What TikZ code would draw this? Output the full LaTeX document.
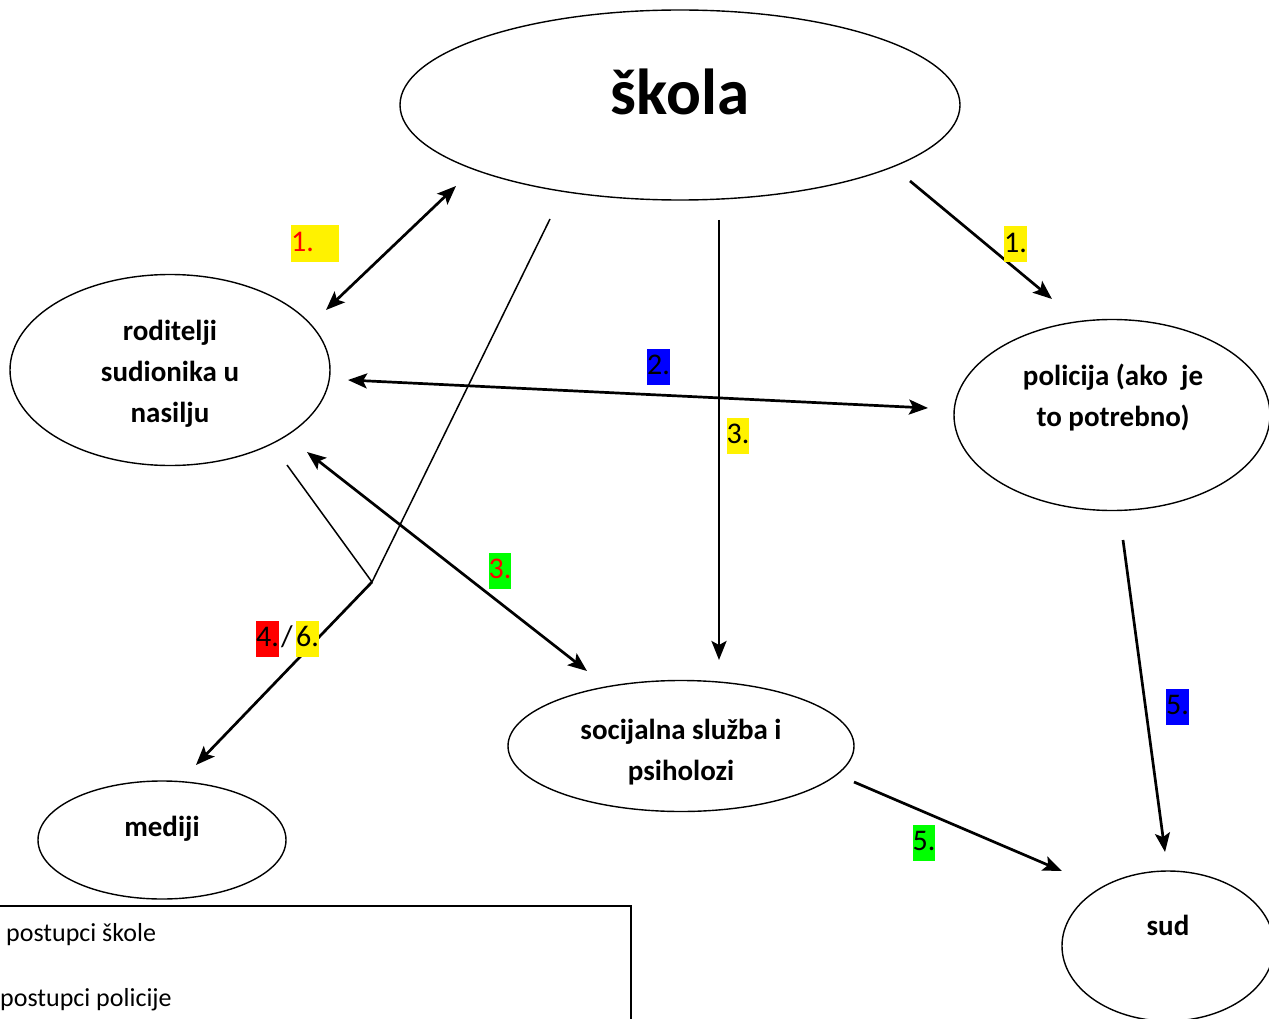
\documentclass[tikz,border=0pt]{standalone}
\usepackage{fontspec}
\setmainfont{Carlito}
\usetikzlibrary{arrows.meta,shapes.geometric}
\begin{document}
\begin{tikzpicture}[x=1pt,y=-1pt,
  ell/.style={draw, ellipse, line width=1.4pt, inner sep=0pt},
  lbl/.style={font=\bfseries\fontsize{29}{41}\selectfont, align=center, inner sep=0pt},
  arr/.style={line width=2.7pt, -{Stealth[length=19pt,width=15pt,inset=4pt]}},
  darr/.style={line width=2.7pt, {Stealth[length=19pt,width=15pt,inset=4pt]}-{Stealth[length=19pt,width=15pt,inset=4pt]}},
  thinline/.style={line width=1.5pt},
  num/.style={font=\fontsize{30}{36}\selectfont, inner xsep=0pt, inner ysep=0pt, text height=26pt, text depth=10pt}
]
\useasboundingbox (0,0) rectangle (1269,1019);
\clip (0,0) rectangle (1269,1019);

% ellipses
\node[ell, minimum width=560pt, minimum height=190pt] (skola) at (680,105) {};
\node[ell, minimum width=320pt, minimum height=191pt] (rod) at (170,370) {};
\node[ell, minimum width=316pt, minimum height=191pt] (pol) at (1112,415) {};
\node[ell, minimum width=346pt, minimum height=131pt] (soc) at (681,746) {};
\node[ell, minimum width=248pt, minimum height=118pt] (med) at (162,840) {};
\node[ell, minimum width=212pt, minimum height=150pt] (sud) at (1168,946) {};

% labels
\node[font=\bfseries\fontsize{65}{78}\selectfont, inner sep=0pt] (skolaT) at (680,92) {škola};
\node[lbl] (rodT) at (170,374) {roditelji\\sudionika u\\nasilju};
\node[lbl] (polT) at (1113,398) {policija (ako\ \ je\\to potrebno)};
\node[lbl] (socT) at (681,752) {socijalna služba i\\psiholozi};
\node[lbl] (medT) at (162,829) {mediji};
\node[lbl] (sudT) at (1168,925) {sud};

% legend
\draw[line width=1.4pt] (-5,906) rectangle (631,1040);
\node[font=\fontsize{26}{31}\selectfont, anchor=west, inner sep=0pt] (leg1) at (6,935) {postupci škole};
\node[font=\fontsize{26}{31}\selectfont, anchor=west, inner sep=0pt] (leg2) at (0,1000) {postupci policije};

% connector end points
\coordinate (a1) at (456,186); \coordinate (a2) at (326,310);
\coordinate (b1) at (348,380); \coordinate (b2) at (928,408);
\coordinate (c1) at (719,220); \coordinate (c2) at (719,660);
\coordinate (d1) at (910,181); \coordinate (d2) at (1052,299);
\coordinate (e1) at (307,452); \coordinate (e2) at (587,671);
\coordinate (f1) at (1123,540); \coordinate (f2) at (1165,852);
\coordinate (g1) at (854,782); \coordinate (g2) at (1062,871);
\coordinate (h1) at (550,219); \coordinate (h2) at (287,465);
\coordinate (hj) at (372,582); \coordinate (h3) at (196,765);

% connectors
\draw[darr] (a1) -- (a2);
\draw[darr] (b1) -- (b2);
\draw[arr] (c1) -- (c2);
\draw[arr] (d1) -- (d2);
\draw[darr] (e1) -- (e2);
\draw[arr] (f1) -- (f2);
\draw[arr] (g1) -- (g2);
\draw[thinline] (h1) -- (hj) -- (h2);
\draw[arr] (hj) -- (h3);

% numbered labels
\node[num, fill=yellow, text=red, anchor=west] (n1a) at (291,243.5) {\hbox to 48pt{1.\hfil}};
\node[num, fill=yellow] (n1b) at (1015.5,244) {1.};
\node[num, fill=blue] (n2) at (658.5,366.5) {2.};
\node[num, fill=yellow] (n3a) at (738,435.5) {3.};
\node[num, fill=green, text=red] (n3b) at (500,570.5) {3.};
\node[num, fill=red] (n4) at (267.5,638.5) {4.};
\node[num] (nsl) at (287,638.5) {/};
\node[num, fill=yellow] (n6) at (307.5,638.5) {6.};
\node[num, fill=blue] (n5a) at (1177.5,706.5) {5.};
\node[num, fill=green] (n5b) at (924,842.5) {5.};
\end{tikzpicture}
\end{document}
